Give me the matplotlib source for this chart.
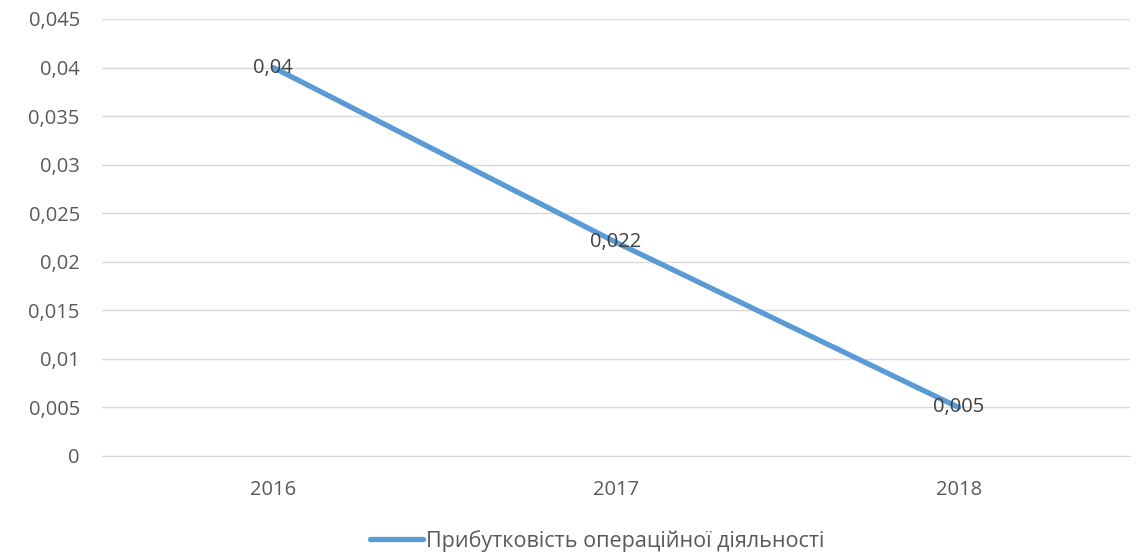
import matplotlib.pyplot as plt
from matplotlib.ticker import FuncFormatter
from matplotlib.lines import Line2D

# Дані
years = ["2016", "2017", "2018"]
values = [0.04, 0.022, 0.005]
value_labels = ["0,04", "0,022", "0,005"]
series_name = "Прибутковість операційної діяльності"

plt.rcParams["font.family"] = ["Open Sans", "DejaVu Sans"]

fig = plt.figure(figsize=(11.39, 5.52), dpi=100)
ax = fig.add_axes([0.0896, 0.174, 0.9024, 0.7916])

x = range(len(years))
ax.plot(x, values, color="#5B9BD5", linewidth=3.8, solid_capstyle="round", zorder=3)

for xi, v, lab in zip(x, values, value_labels):
    ax.text(xi, v, lab, ha="center", va="center", fontsize=14.5, color="#404040", zorder=4)

ax.set_xlim(-0.5, len(years) - 0.5)
ax.set_ylim(0, 0.045)
ax.set_yticks([i * 0.005 for i in range(10)])
ax.yaxis.set_major_formatter(FuncFormatter(lambda v, p: ("%g" % round(v, 4)).replace(".", ",")))
ax.set_xticks(list(x))
ax.set_xticklabels(years)

ax.grid(axis="y", color="#D9D9D9", linewidth=1)
ax.set_axisbelow(True)
for s in ["top", "right", "left"]:
    ax.spines[s].set_visible(False)
ax.spines["bottom"].set_color("#D9D9D9")
ax.tick_params(axis="both", length=0, labelsize=14.5, colors="#595959")
ax.tick_params(axis="y", pad=16)
ax.tick_params(axis="x", pad=17)

handle = Line2D([0], [0], color="#5B9BD5", linewidth=3.8, solid_capstyle="round")
fig.legend([handle], [series_name], loc="center", bbox_to_anchor=(0.524, 0.02),
           frameon=False, fontsize=15.5, handlelength=2.5, handletextpad=0.1,
           labelcolor="#595959")

fig.savefig("out.png", dpi=100)
